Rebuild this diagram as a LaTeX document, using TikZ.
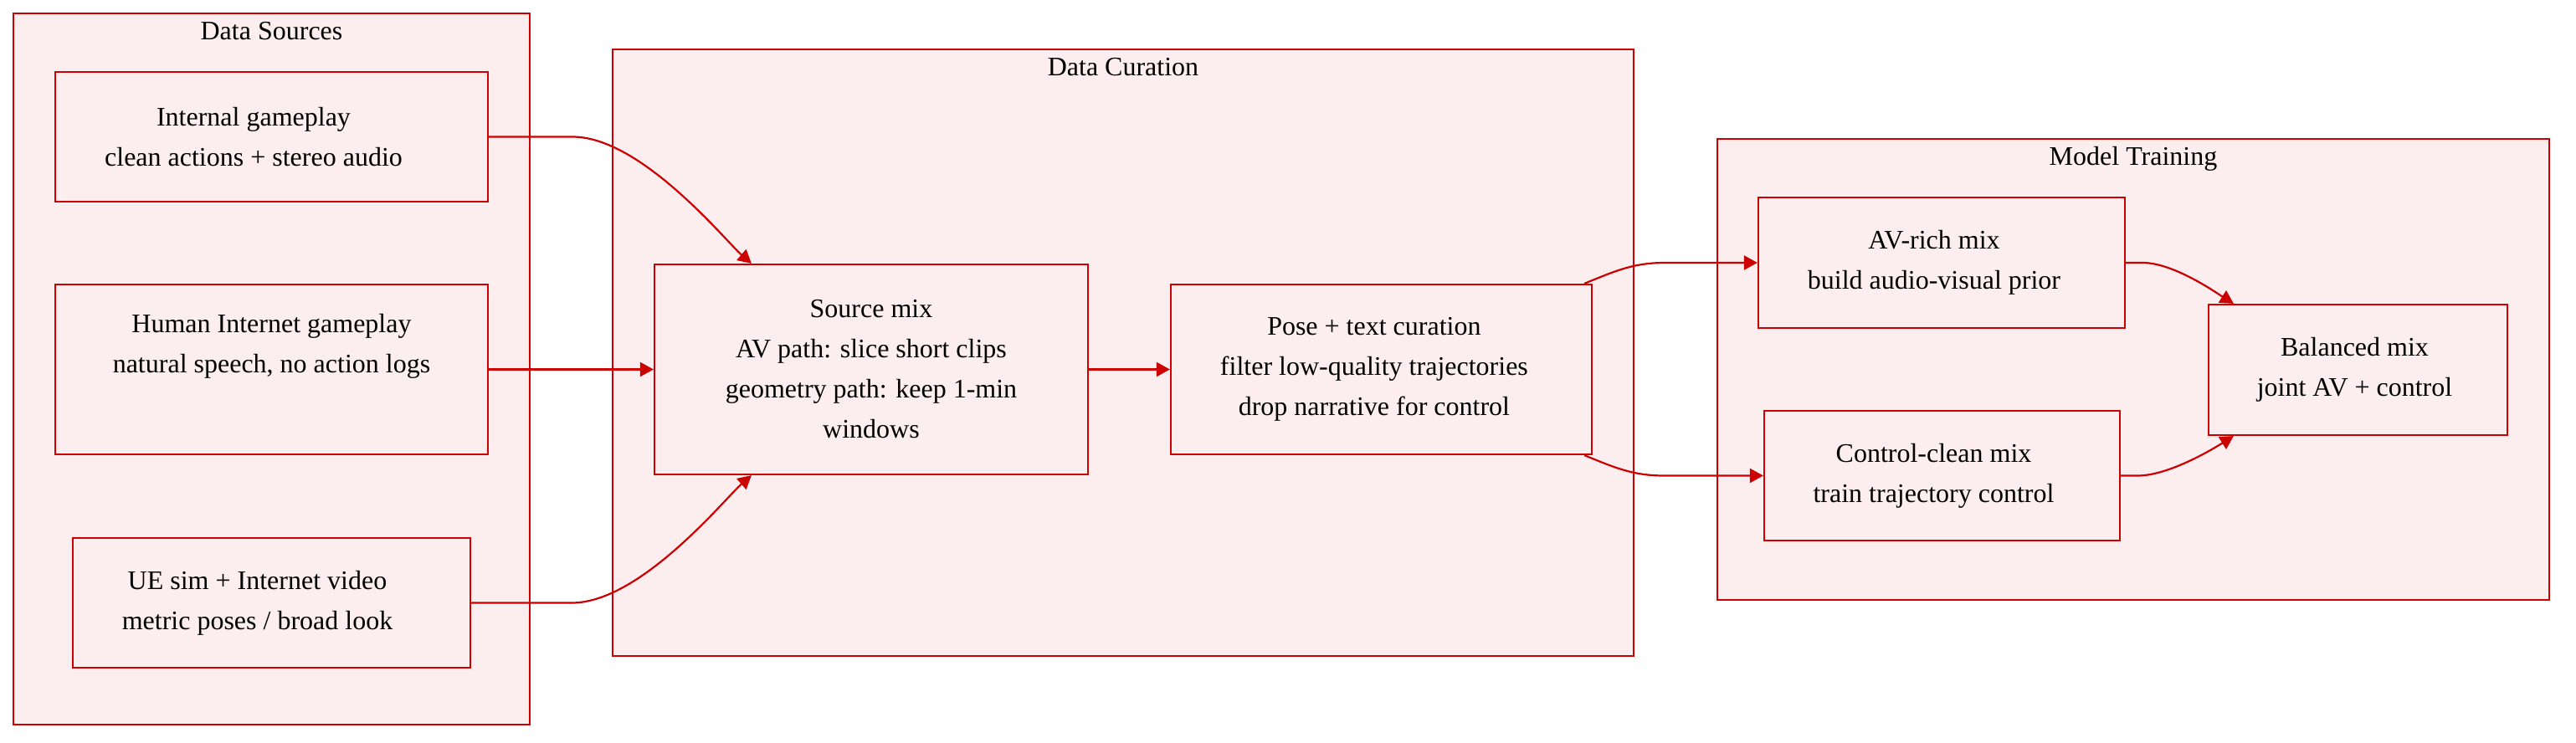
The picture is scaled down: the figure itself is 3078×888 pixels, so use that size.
\documentclass[tikz,border=0pt]{standalone}
\usepackage{fontspec}
\setmainfont{Liberation Serif}
\usetikzlibrary{arrows.meta}
\definecolor{boxred}{HTML}{CC0000}
\definecolor{boxfill}{HTML}{FCEEEE}

\begin{document}
\begin{tikzpicture}[x=0.5pt,y=0.5pt,
 group/.style={draw=boxred,fill=boxfill,line width=1pt,inner sep=0pt},
 grouptitle/.style={anchor=base,inner sep=0pt,font=\fontsize{16}{24}\selectfont},
 stage/.style={draw=boxred,fill=boxfill,line width=1.1pt,inner sep=0pt},
 stagetext/.style={inner sep=0pt,align=center,font=\fontsize{16}{24}\selectfont},
 flow/.style={draw=boxred,line width=1.1pt,-{Triangle[length=8pt,width=8.5pt]}}]
\useasboundingbox (0,0) rectangle (3078,-888);
\node[group,minimum width=308.5pt,minimum height=425pt] (srcs) at (324.5,-441) {};
\node[grouptitle] (srcst) at ([yshift=-16.3pt]srcs.north) {Data Sources};
\node[group,minimum width=610pt,minimum height=362.5pt] (cur) at (1342,-421.5) {};
\node[grouptitle] (curt) at ([yshift=-16.3pt]cur.north) {Data Curation};
\node[group,minimum width=497pt,minimum height=275.5pt] (train) at (2549,-441.5) {};
\node[grouptitle] (traint) at ([yshift=-16.3pt]train.north) {Model Training};

\node[stage,minimum width=258.5pt,minimum height=77.5pt,
 label={[stagetext,xshift=-10.75pt]center:{Internal gameplay\\clean actions + stereo audio}}] (gameint) at (324.5,-163.5) {};
\node[stage,minimum width=258.5pt,minimum height=101.5pt,
 label={[stagetext]center:{Human Internet gameplay\\natural speech, no action logs\\\strut}}] (gamehum) at (324.5,-441.5) {};
\node[stage,minimum width=237.5pt,minimum height=77.5pt,
 label={[stagetext,xshift=-8.5pt]center:{UE sim + Internet video\\metric poses / broad look}}] (ue) at (324.5,-720.5) {};
\node[stage,minimum width=259pt,minimum height=125.5pt,
 label={[stagetext]center:{Source mix\\AV path: slice short clips\\geometry path: keep 1-min\\windows}}] (src) at (1041,-441.5) {};
\node[stage,minimum width=251.5pt,minimum height=101.5pt,
 label={[stagetext,xshift=-4.3pt]center:{Pose + text curation\\filter low-quality trajectories\\drop narrative for control}}] (pose) at (1650.5,-441.5) {};
\node[stage,minimum width=219pt,minimum height=78pt,
 label={[stagetext,xshift=-4.5pt]center:{AV-rich mix\\build audio-visual prior}}] (avrich) at (2320,-314) {};
\node[stage,minimum width=212.5pt,minimum height=77.5pt,
 label={[stagetext,xshift=-5pt]center:{Control-clean mix\\train trajectory control}}] (ctrl) at (2320.5,-568.5) {};
\node[stage,minimum width=178.5pt,minimum height=78pt,
 label={[stagetext,xshift=-2pt]center:{Balanced mix\\joint AV + control}}] (bal) at (2817.5,-442) {};

\draw[flow] (gameint.east) -- ++(100,0) to[out=0,in=139,out looseness=0.8,in looseness=0.4] ([xshift=58.5pt]src.north west);
\draw[flow] (gamehum.east) -- (src.west);
\draw[flow] (ue.east) -- ++(120,0) to[out=0,in=-139,out looseness=0.8,in looseness=0.4] ([xshift=58.5pt]src.south west);
\draw[flow] (src.east) -- (pose.west);
\draw[flow] ([xshift=-5pt]pose.north east) to[out=22,in=180] ([xshift=-55pt]avrich.west) -- (avrich.west);
\draw[flow] ([xshift=-5pt]pose.south east) to[out=-22,in=180] ([xshift=-59pt]ctrl.west) -- (ctrl.west);
\draw[flow] (avrich.east) -- ++(20,0) to[out=0,in=148,out looseness=0.8,in looseness=0.5] ([xshift=15.5pt]bal.north west);
\draw[flow] (ctrl.east) -- ++(20,0) to[out=0,in=-148,out looseness=0.8,in looseness=0.5] ([xshift=15.5pt]bal.south west);
\end{tikzpicture}
\end{document}
